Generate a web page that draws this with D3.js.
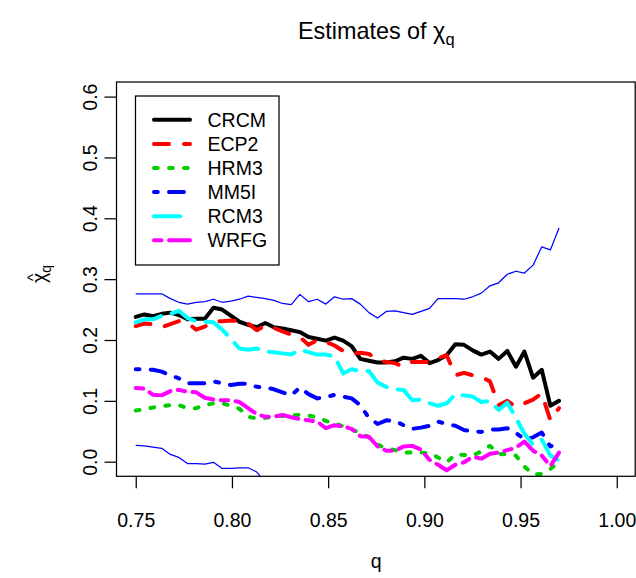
<!DOCTYPE html>
<html>
<head>
<meta charset="utf-8">
<script src="https://cdn.jsdelivr.net/npm/d3@7"></script>
<style>
  body { margin: 0; background: #fff; }
  svg { display: block; font-family: "Liberation Sans", Arial, Helvetica, sans-serif; }
</style>
</head>
<body>
<div id="chart"></div>
<script>
// quantile levels (x)
var q = [0.7500, 0.7545, 0.7590, 0.7635, 0.7680, 0.7724, 0.7769, 0.7814, 0.7859, 0.7904,
         0.7949, 0.7994, 0.8039, 0.8084, 0.8129, 0.8173, 0.8218, 0.8263, 0.8308, 0.8353,
         0.8398, 0.8443, 0.8488, 0.8533, 0.8578, 0.8622, 0.8667, 0.8712, 0.8757, 0.8802,
         0.8847, 0.8892, 0.8937, 0.8982, 0.9027, 0.9071, 0.9116, 0.9161, 0.9206, 0.9251,
         0.9296, 0.9341, 0.9386, 0.9431, 0.9476, 0.9520, 0.9565, 0.9610, 0.9655, 0.9700];

var crcm = [0.238, 0.242, 0.239, 0.243, 0.245, 0.241, 0.234, 0.235, 0.235, 0.253,
            0.250, 0.240, 0.230, 0.225, 0.221, 0.228, 0.221, 0.219, 0.216, 0.213,
            0.205, 0.202, 0.199, 0.204, 0.199, 0.190, 0.169, 0.166, 0.163, 0.163,
            0.165, 0.171, 0.169, 0.174, 0.162, 0.167, 0.175, 0.193, 0.192, 0.183,
            0.176, 0.181, 0.169, 0.182, 0.156, 0.181, 0.138, 0.151, 0.092, 0.100];
var ecp2 = [0.223, 0.227, 0.226, 0.221, 0.226, 0.231, 0.228, 0.217, 0.222, 0.230,
            0.231, 0.232, 0.231, 0.227, 0.216, 0.224, 0.220, 0.214, 0.209, 0.205,
            0.192, 0.200, 0.197, 0.191, 0.182, 0.177, 0.179, 0.177, 0.167, 0.164,
            0.162, 0.156, 0.164, 0.164, 0.164, 0.170, 0.175, 0.142, 0.146, 0.142,
            0.139, 0.132, 0.093, 0.100, 0.090, 0.096, 0.102, 0.112, 0.068, 0.088];
var hrm3 = [0.084, 0.086, 0.089, 0.091, 0.093, 0.093, 0.088, 0.088, 0.093, 0.096,
            0.096, 0.092, 0.087, 0.074, 0.071, 0.072, 0.075, 0.075, 0.076, 0.077,
            0.076, 0.073, 0.067, 0.063, 0.058, 0.053, 0.047, 0.040, 0.028, 0.022,
            0.019, 0.015, 0.015, 0.015, 0.014, 0.007, -0.001, 0.012, 0.011, 0.010,
            0.017, 0.026, 0.013, 0.012, 0.010, -0.008, -0.021, -0.020, -0.012, 0.000];
var mm5i = [0.152, 0.152, 0.151, 0.148, 0.142, 0.137, 0.129, 0.129, 0.129, 0.132,
            0.129, 0.126, 0.128, 0.128, 0.123, 0.122, 0.119, 0.114, 0.109, 0.122,
            0.111, 0.104, 0.106, 0.110, 0.107, 0.104, 0.093, 0.072, 0.062, 0.068,
            0.067, 0.060, 0.054, 0.056, 0.059, 0.066, 0.062, 0.059, 0.052, 0.050,
            0.049, 0.053, 0.053, 0.055, 0.047, 0.037, 0.040, 0.048, 0.025, 0.031];
var rcm3 = [0.229, 0.234, 0.234, 0.240, 0.243, 0.248, 0.236, 0.231, 0.230, 0.229,
            0.217, 0.202, 0.186, 0.184, 0.186, 0.181, 0.180, 0.178, 0.176, 0.184,
            0.180, 0.176, 0.176, 0.173, 0.145, 0.152, 0.149, 0.149, 0.130, 0.123,
            0.119, 0.118, 0.101, 0.102, 0.096, 0.092, 0.096, 0.111, 0.109, 0.107,
            0.098, 0.100, 0.085, 0.097, 0.072, 0.046, 0.028, 0.036, 0.010, 0.002];
var wrfg = [0.121, 0.120, 0.110, 0.109, 0.116, 0.118, 0.115, 0.114, 0.105, 0.102,
            0.101, 0.101, 0.098, 0.088, 0.078, 0.074, 0.074, 0.077, 0.073, 0.070,
            0.068, 0.066, 0.055, 0.060, 0.058, 0.054, 0.042, 0.041, 0.025, 0.018,
            0.018, 0.025, 0.026, 0.020, 0.003, -0.005, -0.014, -0.005, -0.001, 0.008,
            0.005, 0.013, 0.015, 0.019, 0.023, 0.033, 0.018, 0.010, -0.007, 0.015];

// thin blue envelope
var upper = [0.276, 0.276, 0.276, 0.276, 0.268, 0.262, 0.259, 0.262, 0.263, 0.267,
             0.262, 0.264, 0.267, 0.272, 0.270, 0.268, 0.265, 0.260, 0.258, 0.275,
             0.263, 0.267, 0.259, 0.271, 0.267, 0.268, 0.259, 0.245, 0.236, 0.247,
             0.248, 0.245, 0.242, 0.247, 0.252, 0.268, 0.268, 0.268, 0.267, 0.271,
             0.277, 0.289, 0.294, 0.308, 0.313, 0.310, 0.323, 0.353, 0.348, 0.384];
var lower = [0.027, 0.026, 0.024, 0.022, 0.012, 0.007, -0.003, -0.003, -0.004, -0.001,
             -0.011, -0.011, -0.010, -0.010, -0.017, -0.034, -0.045];

var modelNames = ["CRCM", "ECP2", "HRM3", "MM5I", "RCM3", "WRFG"];
var modelSeries = [crcm, ecp2, hrm3, mm5i, rcm3, wrfg];
var modelColors = ["#000000", "#FF0000", "#00CD00", "#0000FF", "#00FFFF", "#FF00FF"];
// R lty 1..6 scaled for the line width
var modelDash = [null, "15,15", "3.75,11.25", "3.75,11.25,15,11.25", "26.25,11.25", "7.5,7.5,22.5,7.5"];

var xTicks = [0.75, 0.80, 0.85, 0.90, 0.95, 1.00];
var yTicks = [0.0, 0.1, 0.2, 0.3, 0.4, 0.5, 0.6];

function drawChart() {
    var width = 636;
    var height = 578;
    var pL = 116.5, pR = 636, pT = 82, pB = 476.3;
    var fs = 19.5;

    var svg = d3.select("#chart").append("svg")
            .attr("width", width)
            .attr("height", height);

    var x = d3.scaleLinear().domain([0.74, 1.01]).range([pL, pR]);
    var y = d3.scaleLinear().domain([-0.024, 0.624]).range([pB, pT]);

    svg.append("clipPath").attr("id", "plotclip")
            .append("rect")
            .attr("x", pL).attr("y", pT)
            .attr("width", pR - pL).attr("height", pB - pT);

    var plot = svg.append("g").attr("clip-path", "url(#plotclip)");

    var line = d3.line()
            .x(function (d, i) { return x(q[i]); })
            .y(function (d) { return y(d); });

    for (var k = 0; k < modelSeries.length; ++k) {
        plot.append("path")
                .attr("d", line(modelSeries[k]))
                .attr("fill", "none")
                .attr("stroke", modelColors[k])
                .attr("stroke-width", 4)
                .attr("stroke-linecap", "round")
                .attr("stroke-linejoin", "round")
                .attr("stroke-dasharray", modelDash[k]);
    }

    [upper, lower].forEach(function (s) {
        plot.append("path")
                .attr("d", line(s))
                .attr("fill", "none")
                .attr("stroke", "#0000FF")
                .attr("stroke-width", 1.25)
                .attr("stroke-linejoin", "round");
    });

    // box
    svg.append("rect")
            .attr("x", pL).attr("y", pT)
            .attr("width", pR - 0.8 - pL).attr("height", pB - pT)
            .attr("fill", "none").attr("stroke", "#000").attr("stroke-width", 1.25);

    // axes
    var xAxis = svg.append("g")
            .attr("transform", "translate(0," + pB + ")")
            .call(d3.axisBottom(x).tickValues(xTicks).tickSize(12).tickSizeOuter(0).tickPadding(25)
                    .tickFormat(d3.format(".2f")));
    var yAxis = svg.append("g")
            .attr("transform", "translate(" + pL + ",0)")
            .call(d3.axisLeft(y).tickValues(yTicks).tickSize(12).tickSizeOuter(0)
                    .tickFormat(d3.format(".1f")));

    [xAxis, yAxis].forEach(function (a) {
        a.select(".domain").remove();
        a.selectAll(".tick line").attr("stroke", "#000").attr("stroke-width", 1.25);
        a.selectAll("text").attr("font-size", fs).attr("fill", "#000")
                .attr("font-family", "Liberation Sans, Arial, sans-serif");
    });

    yAxis.selectAll(".tick text")
            .attr("transform", "rotate(-90)")
            .attr("x", 0).attr("y", -19.5).attr("dy", 0)
            .attr("text-anchor", "middle");

    // title
    var title = svg.append("text")
            .attr("x", (pL + pR) / 2).attr("y", 39)
            .attr("text-anchor", "middle")
            .attr("font-size", 23.4);
    title.append("tspan").text("Estimates of \u03c7");
    title.append("tspan").attr("font-size", 16.5).attr("dy", 6).text("q");

    // x label
    svg.append("text")
            .attr("x", (pL + pR) / 2).attr("y", 568)
            .attr("text-anchor", "middle")
            .attr("font-size", fs).text("q");

    // y label: chi hat sub q
    var yl = svg.append("g").attr("transform", "translate(46,276) rotate(-90)");
    var ylt = yl.append("text").attr("x", -7).attr("y", 0).attr("font-size", fs);
    ylt.append("tspan").text("\u03c7");
    ylt.append("tspan").attr("font-size", 14).attr("dy", 5).text("q");
    yl.append("text").attr("x", -1.5).attr("y", -8.5).attr("text-anchor", "middle")
            .attr("font-size", 15).text("^");

    // legend
    var lg = svg.append("g");
    lg.append("rect")
            .attr("x", 135.5).attr("y", 96)
            .attr("width", 143.5).attr("height", 169)
            .attr("fill", "#fff").attr("stroke", "#000").attr("stroke-width", 1.25);
    modelNames.forEach(function (name, k) {
        var ly = 119.8 + 24.1 * k;
        lg.append("line")
                .attr("x1", 154).attr("x2", 190)
                .attr("y1", ly).attr("y2", ly)
                .attr("stroke", modelColors[k])
                .attr("stroke-width", 4)
                .attr("stroke-linecap", "round")
                .attr("stroke-dasharray", modelDash[k]);
        lg.append("text")
                .attr("x", 207.5).attr("y", ly + 7)
                .attr("font-size", fs)
                .text(name);
    });
}

drawChart();
</script>
</body>
</html>
